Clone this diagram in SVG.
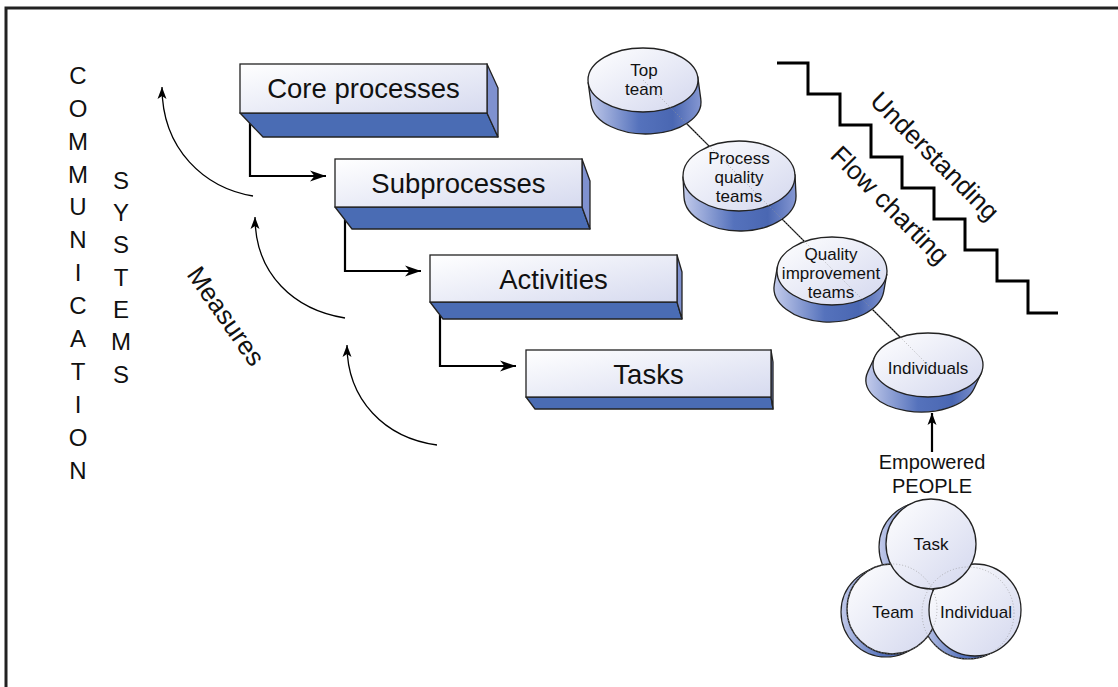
<svg xmlns="http://www.w3.org/2000/svg" width="1118" height="687" viewBox="0 0 1118 687">
<style>
text{font-family:"Liberation Sans",Arial,sans-serif;fill:#111;}
.big{font-size:27.5px;text-anchor:middle;}
.ltr{font-size:24px;text-anchor:middle;}
.diag{font-size:26px;text-anchor:middle;}
.cyl{font-size:17px;text-anchor:middle;}
.face{fill:url(#gFace);stroke:#222;stroke-width:1.3;}
.bot{fill:#4a6cb4;stroke:#222;stroke-width:1.3;stroke-linejoin:round;}
.side{fill:#7f91cf;stroke:#222;stroke-width:1.3;stroke-linejoin:round;}
.body{fill:url(#gBody);stroke:#222;stroke-width:1.3;}
.top{fill:url(#gTop);stroke:#222;stroke-width:1.3;}
.shadow{fill:url(#gBody);stroke:#222;stroke-width:1.2;}
.circ{fill:url(#gTop);stroke:#222;stroke-width:1.3;}
.ghost{fill:none;stroke:#999;stroke-width:1;stroke-dasharray:1 2;opacity:0.7;}
.conn{fill:none;stroke:#000;stroke-width:2.2;}
.curve{fill:none;stroke:#000;stroke-width:1.3;}
</style>
<defs>
<linearGradient id="gFace" x1="0" y1="0" x2="1" y2="1">
<stop offset="0" stop-color="#ffffff"/><stop offset="1" stop-color="#d6daef"/>
</linearGradient>
<linearGradient id="gTop" x1="0" y1="0" x2="1" y2="1">
<stop offset="0" stop-color="#ffffff"/><stop offset="1" stop-color="#d3d7ee"/>
</linearGradient>
<linearGradient id="gBody" x1="0" y1="0" x2="1" y2="0">
<stop offset="0" stop-color="#c3cbeb"/><stop offset="0.45" stop-color="#5572bc"/><stop offset="0.75" stop-color="#4a67b2"/><stop offset="1" stop-color="#8597d2"/>
</linearGradient>
<marker id="ah" viewBox="0 0 16 12" refX="16" refY="6" markerWidth="16" markerHeight="12" markerUnits="userSpaceOnUse" orient="auto">
<path d="M0,0.5 L16,6 L0,11.5 L4.5,6 Z" fill="#000"/>
</marker>
<marker id="ahs" viewBox="0 0 12 10" refX="12" refY="5" markerWidth="12" markerHeight="10" markerUnits="userSpaceOnUse" orient="auto">
<path d="M0,0.5 L12,5 L0,9.5 L3,5 Z" fill="#000"/>
</marker>
</defs>

<rect width="1118" height="687" fill="#fff"/>
<path d="M6,687 V8 H1118" fill="none" stroke="#222" stroke-width="3"/>

<g id="communication">
<text class="ltr" x="78" y="84">C</text>
<text class="ltr" x="78" y="117">O</text>
<text class="ltr" x="78" y="150">M</text>
<text class="ltr" x="78" y="183">M</text>
<text class="ltr" x="78" y="215">U</text>
<text class="ltr" x="78" y="248">N</text>
<text class="ltr" x="78" y="281">I</text>
<text class="ltr" x="78" y="314">C</text>
<text class="ltr" x="78" y="347">A</text>
<text class="ltr" x="78" y="380">T</text>
<text class="ltr" x="78" y="413">I</text>
<text class="ltr" x="78" y="446">O</text>
<text class="ltr" x="78" y="479">N</text>
</g>
<g id="systems">
<text class="ltr" x="121" y="189">S</text>
<text class="ltr" x="121" y="221">Y</text>
<text class="ltr" x="121" y="253">S</text>
<text class="ltr" x="121" y="286">T</text>
<text class="ltr" x="121" y="318">E</text>
<text class="ltr" x="121" y="350">M</text>
<text class="ltr" x="121" y="383">S</text>
</g>
<g id="measures">
<text class="diag" transform="translate(226,316) rotate(55)" y="9">Measures</text>
</g>

<g id="connectors">
<path class="conn" d="M250,121 V176 H326" marker-end="url(#ah)"/>
<path class="conn" d="M345,220 V271 H421" marker-end="url(#ah)"/>
<path class="conn" d="M440,315 V366 H516" marker-end="url(#ah)"/>
<path class="curve" d="M253,196 C205,188 162,150 162,87" marker-end="url(#ahs)"/>
<path class="curve" d="M345,318 C295,310 255,275 255,217" marker-end="url(#ahs)"/>
<path class="curve" d="M437,445 C385,438 347,400 347,345" marker-end="url(#ahs)"/>
<line x1="643" y1="80" x2="928" y2="365" stroke="#000" stroke-width="1.2"/>
<path class="conn" d="M932,452 V413" stroke-width="1.5" marker-end="url(#ahs)"/>
</g>

<g id="core">
<polygon class="bot" points="240,113 487,113 498,137 263,137"/>
<polygon class="side" points="487,64 498,88 498,137 487,113"/>
<rect class="face" x="240" y="64" width="247" height="49"/>
<text class="big" x="363.5" y="98">Core processes</text>
</g>
<g id="subprocesses">
<polygon class="bot" points="335,207 582,207 590,229 352,229"/>
<polygon class="side" points="582,159 590,181 590,229 582,207"/>
<rect class="face" x="335" y="159" width="247" height="48"/>
<text class="big" x="458.5" y="193">Subprocesses</text>
</g>
<g id="activities">
<polygon class="bot" points="430,302 677,302 682,319 443,319"/>
<polygon class="side" points="677,255 682,272 682,319 677,302"/>
<rect class="face" x="430" y="255" width="247" height="47"/>
<text class="big" x="553.5" y="289">Activities</text>
</g>
<g id="tasks">
<polygon class="bot" points="526,397 771,397 773,409 535,409"/>
<polygon class="side" points="771,350 773,362 773,409 771,397"/>
<rect class="face" x="526" y="350" width="245" height="47"/>
<text class="big" x="648.5" y="384">Tasks</text>
</g>

<g id="top-team">
<path class="body" d="M697.8,77.2 L700.8,99.2 A55,32 0 0 1 591.2,104.8 L588.2,82.8 Z"/>
<ellipse class="top" cx="643" cy="80" rx="55" ry="32"/>
<text class="cyl" x="644" y="76">Top</text>
<text class="cyl" x="644" y="95">team</text>
</g>
<g id="process-quality-teams">
<path class="body" d="M795,174.9 L796,194.9 A56,35 0 0 1 684,197.1 L683,177.1 Z"/>
<ellipse class="top" cx="739" cy="176" rx="56" ry="35"/>
<text class="cyl" x="739" y="164">Process</text>
<text class="cyl" x="739" y="183">quality</text>
<text class="cyl" x="739" y="202">teams</text>
</g>
<g id="quality-improvement-teams">
<path class="body" d="M886.7,274.7 L883.7,291.7 A55,34 0 0 1 774.3,284.3 L777.3,267.3 Z"/>
<ellipse class="top" cx="832" cy="271" rx="55" ry="34"/>
<text class="cyl" x="831" y="260">Quality</text>
<text class="cyl" x="831" y="279">improvement</text>
<text class="cyl" x="831" y="298">teams</text>
</g>
<g id="individuals">
<path class="body" d="M981.1,373.4 L974.1,388.4 A55,32 0 0 1 867.9,371.6 L874.9,356.6 Z"/>
<ellipse class="top" cx="928" cy="365" rx="55" ry="32"/>
<text class="cyl" x="928" y="374">Individuals</text>
</g>
<line class="ghost" x1="643" y1="80" x2="928" y2="365"/>

<g id="empowered-people">
<text class="cyl" x="932" y="469" style="font-size:20px">Empowered</text>
<text class="cyl" x="932" y="493" style="font-size:20px">PEOPLE</text>
</g>

<g id="venn">
<circle class="shadow" cx="924" cy="547" r="45"/>
<circle class="shadow" cx="886" cy="612" r="45"/>
<circle class="shadow" cx="968" cy="613" r="46"/>
<circle class="circ" cx="892" cy="609" r="45"/>
<circle class="circ" cx="975" cy="610" r="46"/>
<circle class="circ" cx="931" cy="544" r="45"/>
<circle class="ghost" cx="892" cy="609" r="45"/>
<circle class="ghost" cx="968" cy="613" r="46"/>
<text class="cyl" x="931" y="550">Task</text>
<text class="cyl" x="893" y="618">Team</text>
<text class="cyl" x="976" y="618">Individual</text>
</g>

<g id="stairs">
<polyline points="777,63 808,63 808,94 840,94 840,125 871,125 871,157 902,157 902,188 934,188 934,219 965,219 965,250 997,250 997,281 1028,281 1028,313 1058,313" fill="none" stroke="#000" stroke-width="3"/>
<text class="diag" transform="translate(935,156) rotate(45)" y="9">Understanding</text>
<text class="diag" transform="translate(890,205) rotate(45)" y="9">Flow charting</text>
</g>
</svg>
